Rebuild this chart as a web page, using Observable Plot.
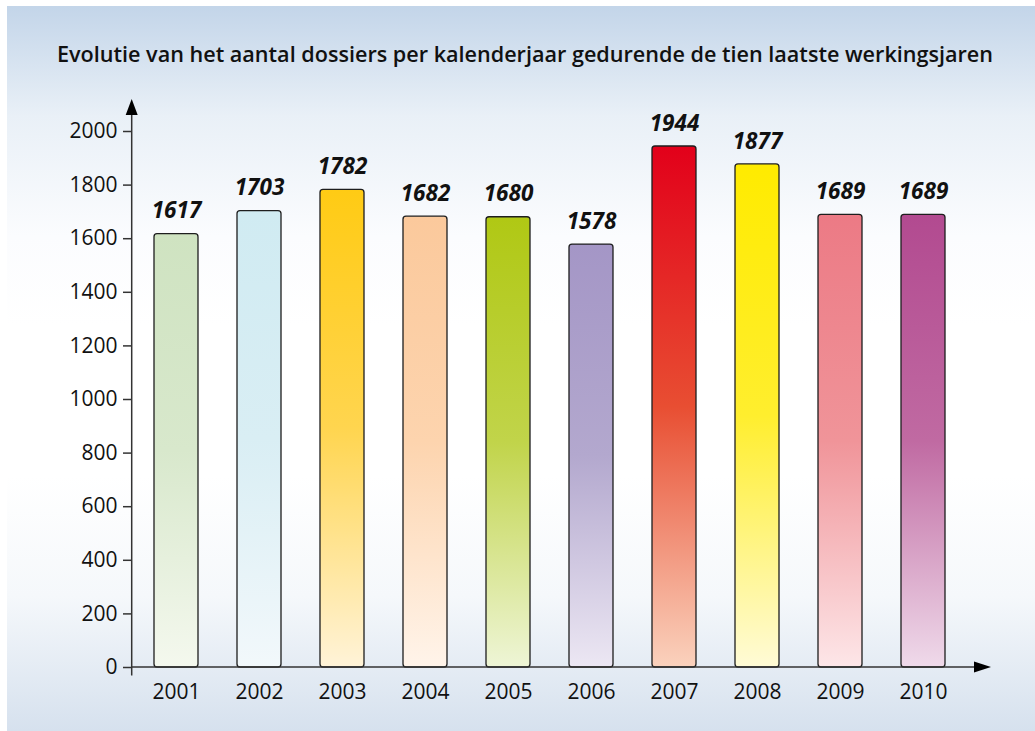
<!DOCTYPE html>
<html><head><meta charset="utf-8">
<script src="https://cdn.jsdelivr.net/npm/d3@7"></script>
<script src="https://cdn.jsdelivr.net/npm/@observablehq/plot@0.6"></script>
<style>
html,body{margin:0;padding:0;background:#fff;width:1035px;height:731px;overflow:hidden;}
#panel{position:absolute;left:7px;top:6px;width:1028px;height:725px;
 background:linear-gradient(to bottom,#c3d5e9 0px,#e9f0f7 110px,#fbfcfe 230px,#ffffff 320px,#ffffff 470px,#f5f8fb 590px,#d6e1ee 725px);}
#wrap{position:absolute;left:0;top:0;width:1035px;height:731px;}
#title{height:90px;box-sizing:border-box;padding-top:43px;padding-left:15px;text-align:center;
 font-family:"Open Sans",sans-serif;font-weight:600;font-size:21.6px;line-height:21px;color:#111;letter-spacing:0px;white-space:nowrap;}
#chart svg{display:block;overflow:visible;}
</style></head>
<body>
<div id="panel"></div>
<div id="wrap">
 <div id="title">Evolutie van het aantal dossiers per kalenderjaar gedurende de tien laatste werkingsjaren</div>
 <div id="chart"></div>
</div>
<script>
const years = [2001, 2002, 2003, 2004, 2005, 2006, 2007, 2008, 2009, 2010];
const counts = [1617, 1703, 1782, 1682, 1680, 1578, 1944, 1877, 1689, 1689];
const topColors = ["#cfe3c1","#d0ebf2","#ffcb14","#fbc99c","#b0c814","#a496c6","#e2001a","#ffeb00","#ec7a85","#b24a90"];
const midColors = ["#d8e8cc","#d9eef4","#ffd54f","#fdd4ae","#c1d44a","#b3a8ce","#e84e32","#ffee2e","#f09499","#c06aa2"];
const bottomColors = ["#f4f8ee","#f2f8fb","#fff3d8","#fff4ea","#eef5d6","#ece7f3","#fad2bd","#fffbd6","#fde6e8","#efdaea"];
const yTicks = [0, 200, 400, 600, 800, 1000, 1200, 1400, 1600, 1800, 2000];

const data = years.map((year, i) => ({year, count: counts[i], top: topColors[i], mid: midColors[i], bottom: bottomColors[i]}));

const defsMark = () => {
  const defs = d3.create("svg:defs");
  data.forEach(d => {
    const g = defs.append("linearGradient").attr("id", "g" + d.year)
      .attr("x1", 0).attr("y1", 0).attr("x2", 0).attr("y2", 1);
    g.append("stop").attr("offset", "0%").attr("stop-color", d.top);
    g.append("stop").attr("offset", "50%").attr("stop-color", d.mid);
    g.append("stop").attr("offset", "100%").attr("stop-color", d.bottom);
  });
  return defs.node();
};

const axesMark = (index, scales, values, dims) => {
  const g = d3.create("svg:g");
  const x0 = dims.marginLeft + 0.7;
  const y0 = scales.y(0);
  const yTop = scales.y(2000);
  const xRight = dims.width - dims.marginRight;
  g.append("line").attr("x1", x0).attr("x2", x0).attr("y1", y0 + 8.5).attr("y2", yTop - 16)
    .attr("stroke", "#333").attr("stroke-width", 1.5);
  g.append("path").attr("d", `M${x0},${yTop - 32}L${x0 + 6},${yTop - 16}L${x0 - 6},${yTop - 16}Z`).attr("fill", "#000");
  g.append("line").attr("x1", x0).attr("x2", xRight + 5).attr("y1", y0).attr("y2", y0)
    .attr("stroke", "#333").attr("stroke-width", 1.5);
  g.append("path").attr("d", `M${xRight + 22},${y0}L${xRight + 5},${y0 - 5.5}L${xRight + 5},${y0 + 5.5}Z`).attr("fill", "#000");
  return g.node();
};

const chart = Plot.plot({
  width: 1035,
  height: 641,
  marginLeft: 131,
  marginRight: 66,
  marginTop: 41,
  marginBottom: 64,
  style: {background: "transparent", fontFamily: "'Open Sans', sans-serif", color: "#111", overflow: "visible"},
  x: {domain: years, paddingInner: 0.467, paddingOuter: 0.272, align: 0.5, label: null},
  y: {domain: [0, 2000], label: null},
  color: {type: "identity"},
  marks: [
    defsMark,
    Plot.barY(data, {x: "year", y: "count", fill: d => `url(#g${d.year})`, stroke: "#1e1e1e", strokeWidth: 1.3, rx: 3}),
    Plot.axisY({ticks: yTicks, tickSize: 8, tickPadding: 6, fontSize: 21, stroke: "#333", strokeWidth: 1.5, tickFormat: d => `${d}`, label: null}),
    Plot.axisX({tickSize: 0, tickPadding: 17, fontSize: 21, tickFormat: d => `${d}`, label: null}),
    axesMark,
    Plot.text(data, {x: "year", y: "count", text: d => `${d.count}`, lineAnchor: "middle", dy: -23, fontSize: 22.5, fontWeight: "bold", fontStyle: "italic", fill: "#111"})
  ]
});
document.getElementById("chart").appendChild(chart);
</script>
</body></html>
